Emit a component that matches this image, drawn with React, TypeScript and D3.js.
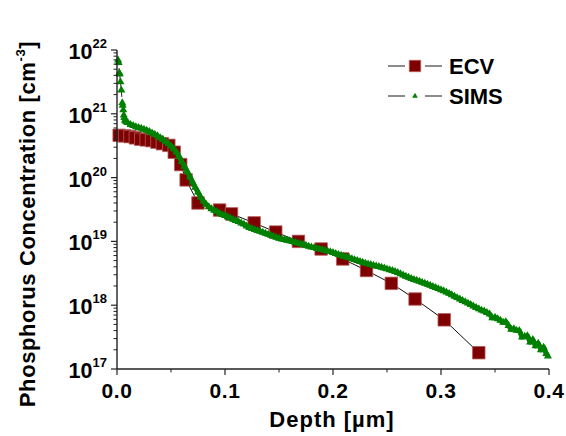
import React from 'react';
import * as d3 from 'd3';

// ECV profile (depth in µm, phosphorus concentration in cm^-3)
const ecvDepth = [0.002, 0.007, 0.012, 0.017, 0.022, 0.027, 0.032, 0.037, 0.042, 0.048, 0.053, 0.059, 0.064, 0.075, 0.095, 0.106, 0.127, 0.147, 0.168, 0.189, 0.209, 0.231, 0.254, 0.276, 0.303, 0.335];
const ecvConc = [4.6e20, 4.5e20, 4.4e20, 4.2e20, 4.0e20, 3.9e20, 3.8e20, 3.6e20, 3.4e20, 3.2e20, 2.5e20, 1.6e20, 9.2e19, 4.0e19, 3.1e19, 2.7e19, 1.95e19, 1.4e19, 1.0e19, 7.6e18, 5.3e18, 3.5e18, 2.2e18, 1.25e18, 5.9e17, 1.8e17];

// SIMS profile: depth (µm) and log10 of concentration (cm^-3)
const simsDepth = [
  0.0010, 0.0015, 0.0022, 0.0025, 0.0032, 0.0040, 0.0049, 0.0053, 0.0058, 0.0063, 0.0068, 0.0074, 0.0080, 0.0088,
  0.0100, 0.0125, 0.0150, 0.0175, 0.0200, 0.0225, 0.0250, 0.0275, 0.0300, 0.0325, 0.0350, 0.0375, 0.0400, 0.0425, 0.0450, 0.0475,
  0.0500, 0.0525, 0.0550, 0.0575, 0.0600, 0.0625, 0.0650, 0.0675, 0.0700, 0.0725, 0.0750, 0.0775, 0.0800, 0.0825, 0.0850, 0.0875,
  0.0900, 0.0925, 0.0950, 0.0975, 0.1000, 0.1025, 0.1050, 0.1075, 0.1100, 0.1125, 0.1150, 0.1175, 0.1200, 0.1225, 0.1250, 0.1275,
  0.1300, 0.1325, 0.1350, 0.1375, 0.1400, 0.1425, 0.1450, 0.1475, 0.1500, 0.1525, 0.1550, 0.1575, 0.1600, 0.1625, 0.1650, 0.1675,
  0.1700, 0.1725, 0.1750, 0.1775, 0.1800, 0.1825, 0.1850, 0.1875, 0.1900, 0.1925, 0.1950, 0.1975, 0.2000, 0.2025, 0.2050, 0.2075,
  0.2100, 0.2125, 0.2150, 0.2175, 0.2200, 0.2225, 0.2250, 0.2275, 0.2300, 0.2325, 0.2350, 0.2375, 0.2400, 0.2425, 0.2450, 0.2475,
  0.2500, 0.2525, 0.2550, 0.2575, 0.2600, 0.2625, 0.2650, 0.2675, 0.2700, 0.2725, 0.2750, 0.2775, 0.2800, 0.2825, 0.2850, 0.2875,
  0.2900, 0.2925, 0.2950, 0.2975, 0.3000, 0.3025, 0.3050, 0.3075, 0.3100, 0.3125, 0.3150, 0.3175, 0.3200, 0.3225, 0.3250, 0.3275,
  0.3300, 0.3325, 0.3350, 0.3375, 0.3400, 0.3425, 0.3450, 0.3475, 0.3500, 0.3525, 0.3550, 0.3575, 0.3600, 0.3625, 0.3650, 0.3675,
  0.3700, 0.3725, 0.3750, 0.3775, 0.3800, 0.3825, 0.3850, 0.3875, 0.3900, 0.3925, 0.3950, 0.3975, 0.3990
];
const simsLog10 = [
  21.84, 21.80, 21.64, 21.62, 21.50, 21.37, 21.17, 21.13, 21.06, 20.98, 20.94, 20.90, 20.885, 20.872,
  20.86, 20.83, 20.815, 20.795, 20.783, 20.77, 20.754, 20.738, 20.72, 20.698, 20.676, 20.652, 20.623, 20.594, 20.563, 20.53,
  20.495, 20.45, 20.40, 20.33, 20.249, 20.175, 20.095, 20.01, 19.93, 19.845, 19.77, 19.69, 19.63, 19.58, 19.54, 19.51,
  19.487, 19.465, 19.44, 19.42, 19.403, 19.385, 19.363, 19.345, 19.325, 19.308, 19.287, 19.268, 19.24, 19.215, 19.20, 19.185,
  19.17, 19.155, 19.14, 19.125, 19.11, 19.095, 19.08, 19.064, 19.047, 19.036, 19.026, 19.016, 19.006, 18.995, 18.984, 18.974,
  18.962, 18.95, 18.937, 18.923, 18.911, 18.90, 18.889, 18.878, 18.869, 18.858, 18.848, 18.837, 18.822, 18.808, 18.793, 18.779,
  18.766, 18.753, 18.74, 18.727, 18.712, 18.697, 18.682, 18.67, 18.657, 18.645, 18.634, 18.623, 18.613, 18.603, 18.592, 18.579,
  18.567, 18.554, 18.54, 18.525, 18.509, 18.49, 18.47, 18.452, 18.434, 18.417, 18.40, 18.387, 18.372, 18.357, 18.343, 18.326,
  18.309, 18.292, 18.274, 18.257, 18.24, 18.223, 18.204, 18.183, 18.16, 18.138, 18.116, 18.094, 18.072, 18.05, 18.03, 18.008,
  17.985, 17.963, 17.942, 17.92, 17.905, 17.884, 17.86, 17.80, 17.81, 17.785, 17.76, 17.73, 17.74, 17.68, 17.62, 17.63,
  17.603, 17.60, 17.50, 17.51, 17.52, 17.42, 17.46, 17.36, 17.40, 17.30, 17.34, 17.24, 17.20
];

const xTicks = [0, 0.1, 0.2, 0.3, 0.4];
const xTickLabels = ['0.0', '0.1', '0.2', '0.3', '0.4'];
const xMinorTicks = [0.05, 0.15, 0.25, 0.35];
const yExponents = [17, 18, 19, 20, 21, 22];

const seriesNames = ['ECV', 'SIMS'];

const FONT = "'Liberation Sans', Arial, Helvetica, sans-serif";

export default function App() {
  const x = d3.scaleLinear().domain([0, 0.4]).range([117, 549]);
  const y = d3.scaleLog().domain([1e17, 1e22]).range([369, 50]);

  const ecv = ecvDepth.map((d, i) => [d, ecvConc[i]] as [number, number]);
  const sims = simsDepth.map((d, i) => [d, Math.pow(10, simsLog10[i])] as [number, number]);

  const line = d3.line<[number, number]>().x(d => x(d[0])).y(d => y(d[1]));
  const square = d3.symbol(d3.symbolSquare, 156)() as string;
  const squareLegend = d3.symbol(d3.symbolSquare, 130)() as string;
  const tri = d3.symbol(d3.symbolTriangle, 28)() as string;
  const triLegend = d3.symbol(d3.symbolTriangle, 14)() as string;

  const yMinor: number[] = [];
  for (let e = 17; e < 22; e++) for (let m = 2; m <= 9; m++) yMinor.push(m * Math.pow(10, e));

  const x0 = x(0), yBot = y(1e17), yTop = y(1e22);

  return (
    <svg width={566} height={436} style={{ position: 'absolute', left: 0, top: 0, background: '#fff' }}
      fontFamily={FONT}>
      <rect width={566} height={436} fill="#fff" />

      {/* ECV */}
      <path d={line(ecv) as string} fill="none" stroke="#111" strokeWidth={1} />
      {ecv.map((d, i) => (
        <path key={'e' + i} d={square} transform={`translate(${x(d[0])},${y(d[1])})`}
          fill="#7f0000" stroke="#b45a5a" strokeWidth={0.8} />
      ))}

      {/* SIMS */}
      <path d={line(sims) as string} fill="none" stroke="#222" strokeWidth={1} strokeDasharray="5,3" />
      <path d={line(sims.slice(14)) as string} fill="none" stroke="#008000" strokeWidth={5} strokeLinejoin="round" />
      {sims.map((d, i) => (
        <path key={'s' + i} d={tri} transform={`translate(${x(d[0])},${y(d[1])})`} fill="#008000" />
      ))}

      {/* axes */}
      <line x1={x0} x2={x0} y1={yTop} y2={yBot} stroke="#222" strokeWidth={1.4} />
      <line x1={x0} x2={x(0.4)} y1={yBot} y2={yBot} stroke="#222" strokeWidth={1.4} />
      {yExponents.map(e => (
        <line key={'ym' + e} x1={x0 - 6} x2={x0} y1={y(Math.pow(10, e))} y2={y(Math.pow(10, e))} stroke="#222" strokeWidth={1.2} />
      ))}
      {yMinor.map((v, i) => (
        <line key={'yn' + i} x1={x0 - 3.5} x2={x0} y1={y(v)} y2={y(v)} stroke="#222" strokeWidth={1} />
      ))}
      {xTicks.map(t => (
        <line key={'xm' + t} x1={x(t)} x2={x(t)} y1={yBot} y2={yBot + 6} stroke="#222" strokeWidth={1.2} />
      ))}
      {xMinorTicks.map(t => (
        <line key={'xn' + t} x1={x(t)} x2={x(t)} y1={yBot} y2={yBot + 3.5} stroke="#222" strokeWidth={1} />
      ))}

      {/* tick labels */}
      {xTicks.map((t, i) => (
        <text key={'xl' + t} x={x(t)} y={398} textAnchor="middle" fontSize={21} fontWeight="bold" letterSpacing={0.6}>
          {xTickLabels[i]}
        </text>
      ))}
      {yExponents.map(e => (
        <text key={'yl' + e} x={107} y={y(Math.pow(10, e)) + 9} textAnchor="end" fontSize={21.5} fontWeight="bold">
          10<tspan fontSize={13} dy={-11}>{e}</tspan>
        </text>
      ))}

      {/* titles */}
      <text x={332} y={427} textAnchor="middle" fontSize={22} fontWeight="bold" letterSpacing={1}>Depth [µm]</text>
      <text transform={`translate(35,224) rotate(-90)`} textAnchor="middle" fontSize={22} fontWeight="bold" letterSpacing={0.6}>
        Phosphorus Concentration [cm<tspan fontSize={13} dy={-10}>-3</tspan><tspan dy={10}>]</tspan>
      </text>

      {/* legend */}
      {seriesNames.map((n, i) => {
        const ly = 66 + i * 30;
        return (
          <g key={n}>
            <line x1={388} x2={405} y1={ly} y2={ly} stroke="#666" strokeWidth={1.5} />
            <line x1={425} x2={442} y1={ly} y2={ly} stroke="#666" strokeWidth={1.5} />
            {i === 0
              ? <path d={squareLegend} transform={`translate(415,${ly})`} fill="#7f0000" stroke="#b45a5a" strokeWidth={0.8} />
              : <path d={triLegend} transform={`translate(415,${ly})`} fill="#008000" />}
            <text x={449} y={ly + 8} fontSize={22} fontWeight="bold">{n}</text>
          </g>
        );
      })}
    </svg>
  );
}
